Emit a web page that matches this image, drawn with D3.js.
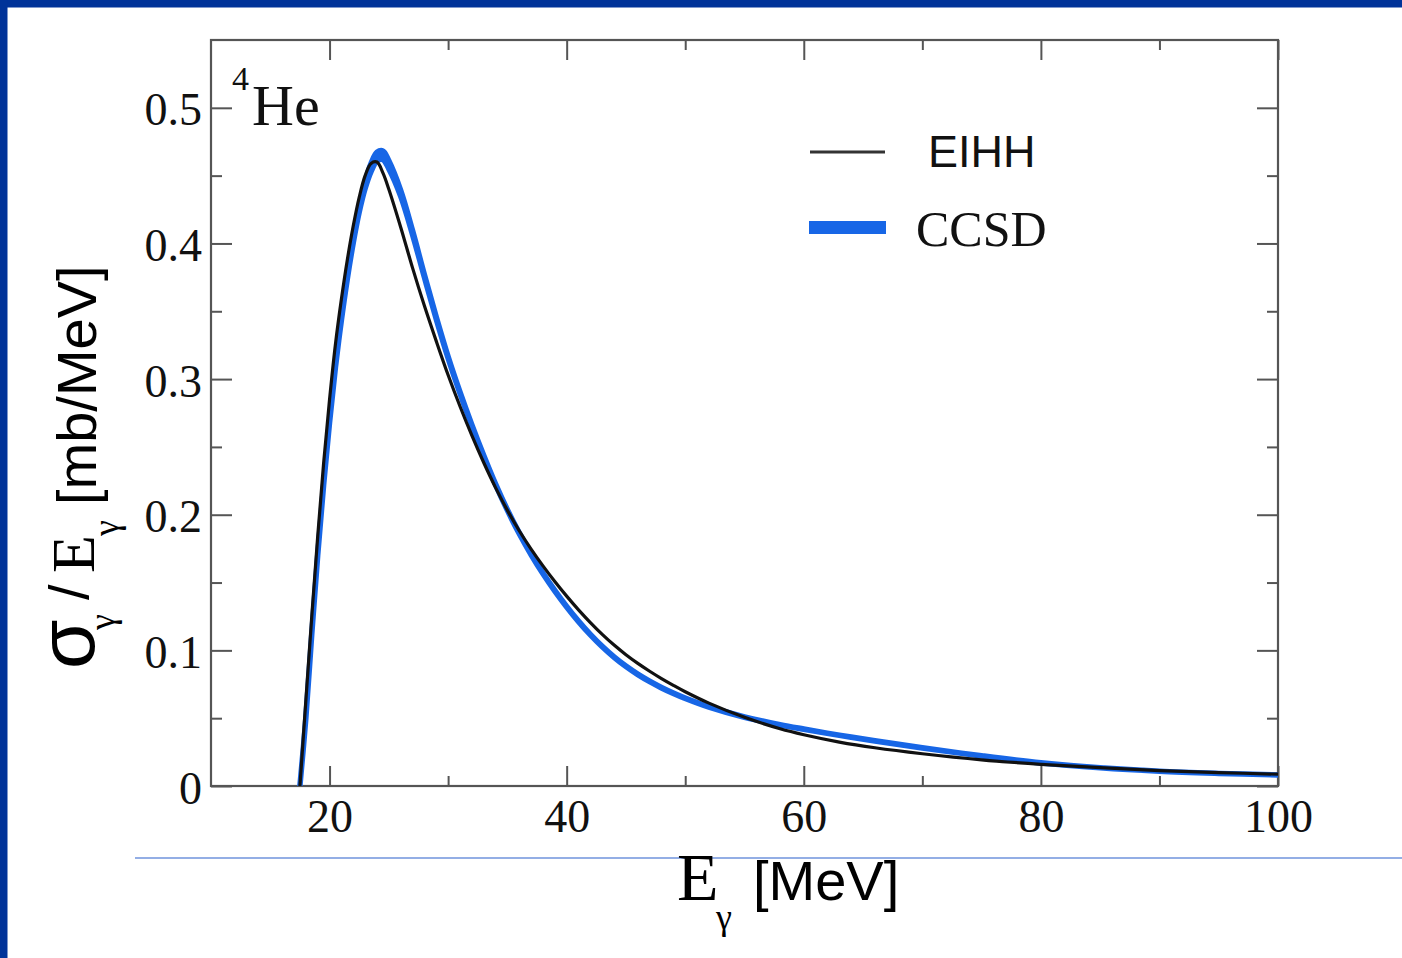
<!DOCTYPE html>
<html>
<head>
<meta charset="utf-8">
<script src="https://cdn.jsdelivr.net/npm/d3@7"></script>
<style>
  html, body { margin: 0; padding: 0; background: #ffffff; }
  svg { display: block; }
</style>
</head>
<body>
<svg id="chart" width="1402" height="958"></svg>
<script>
// Photon energy grid [MeV] shared by both calculations
const energy = [17.5, 18, 18.5, 19, 19.5, 20, 20.5, 21, 21.5, 22, 22.5, 23, 23.5, 24, 24.5, 25,
  26, 27, 28, 29, 30, 31, 32, 33, 34, 35, 36, 37, 38, 39, 40, 41, 42, 43, 44, 45, 46, 47, 48, 49, 50,
  52, 55, 58, 60, 63, 66, 70, 75, 80, 85, 90, 95, 100];

// sigma_gamma / E_gamma [mb/MeV], EIHH calculation
const eihh = [0, 0.063, 0.125, 0.184, 0.238, 0.285, 0.326, 0.359, 0.388, 0.413, 0.434, 0.450, 0.459, 0.460, 0.452, 0.440,
  0.412, 0.382, 0.354, 0.328, 0.303, 0.280, 0.2585, 0.2385, 0.220, 0.2032, 0.1882, 0.1747, 0.1623, 0.1508, 0.140, 0.1299, 0.1205, 0.1118, 0.1039, 0.0968, 0.0904, 0.0846, 0.0792, 0.0742, 0.0695,
  0.0611, 0.0506, 0.0422, 0.0378, 0.0324, 0.0282, 0.0238, 0.0193, 0.0160, 0.0135, 0.0114, 0.0099, 0.0087];

// sigma_gamma / E_gamma [mb/MeV], CCSD calculation and its band half-width
const ccsd = [0, 0.050, 0.112, 0.170, 0.222, 0.268, 0.309, 0.344, 0.375, 0.402, 0.425, 0.443, 0.456, 0.464, 0.465, 0.458,
  0.437, 0.408, 0.376, 0.345, 0.316, 0.290, 0.266, 0.2435, 0.2225, 0.2035, 0.1863, 0.1708, 0.1568, 0.144, 0.1322, 0.1214, 0.1116, 0.1028, 0.095, 0.0882, 0.0823, 0.0771, 0.0725, 0.0684, 0.0647,
  0.0583, 0.0508, 0.0451, 0.0419, 0.0374, 0.0332, 0.0281, 0.0222, 0.0170, 0.0134, 0.0109, 0.0093, 0.0081];
const ccsdErr = [0, 0, 0, 0, 0, 0, 0, 0.0005, 0.001, 0.0015, 0.002, 0.0025, 0.003, 0.0032, 0.0032, 0.003,
  0.0022, 0.0015, 0.001, 0.0008, 0.0006, 0.0005, 0.0004, 0.0004, 0.0003, 0.0003, 0.0003, 0.0003, 0.0003, 0.0003, 0.0002, 0.0002, 0.0002, 0.0002, 0.0002, 0.0002, 0.0002, 0.0002, 0.0002, 0.0002, 0.0002,
  0.0002, 0.0002, 0.0001, 0.0001, 0.0001, 0.0001, 0.0001, 0.0001, 0.0001, 0, 0, 0, 0];

// Axis ticks
const xMajor = [20, 40, 60, 80, 100];
const xMinor = [30, 50, 70, 90];
const yMajor = [0, 0.1, 0.2, 0.3, 0.4, 0.5];
const yMinor = [0.05, 0.15, 0.25, 0.35, 0.45];

const legendLabels = ["EIHH", "CCSD"];

const svg = d3.select("#chart");
const W = 1402, H = 958;
const SERIF = "'Liberation Serif', 'Times New Roman', serif";
const SANS = "'Liberation Sans', Arial, sans-serif";
const BLUE = "#1766e6";

// slide background and decoration
svg.append("rect").attr("width", W).attr("height", H).attr("fill", "#ffffff");
svg.append("rect").attr("x", 0).attr("y", 0).attr("width", W).attr("height", 7.5).attr("fill", "#003399");
svg.append("rect").attr("x", 0).attr("y", 0).attr("width", 7.5).attr("height", H).attr("fill", "#003399");
svg.append("line").attr("x1", 135).attr("x2", W).attr("y1", 858).attr("y2", 858)
  .attr("stroke", "#6f93dc").attr("stroke-width", 1.5);

// plot area
const plot = { left: 211, right: 1278, top: 40, bottom: 786 };
const x = d3.scaleLinear().domain([10, 100]).range([plot.left, plot.right]);
const y = d3.scaleLinear().domain([0, 0.55]).range([plot.bottom, plot.top]);

svg.append("defs").append("clipPath").attr("id", "plotClip")
  .append("rect").attr("x", plot.left).attr("y", plot.top)
  .attr("width", plot.right - plot.left).attr("height", plot.bottom - plot.top);

const AX = "#555555";
function styleAxis(g) {
  g.select(".domain").remove();
  g.selectAll(".tick line").attr("stroke", AX).attr("stroke-width", 2);
  g.selectAll(".tick text").attr("fill", "#111").attr("font-family", SERIF).attr("font-size", 46);
}

// bottom axis: major with labels, minor unlabeled; ticks point inward
svg.append("g").attr("transform", `translate(0,${plot.bottom})`)
  .call(d3.axisBottom(x).tickValues(xMajor).tickSizeInner(-20).tickSizeOuter(0).tickPadding(13).tickFormat(d3.format("d")))
  .call(styleAxis);
svg.append("g").attr("transform", `translate(0,${plot.bottom})`)
  .call(d3.axisBottom(x).tickValues(xMinor).tickSizeInner(-10).tickSizeOuter(0).tickFormat(""))
  .call(styleAxis);
// top axis mirror
svg.append("g").attr("transform", `translate(0,${plot.top})`)
  .call(d3.axisTop(x).tickValues(xMajor).tickSizeInner(-20).tickSizeOuter(0).tickFormat(""))
  .call(styleAxis);
svg.append("g").attr("transform", `translate(0,${plot.top})`)
  .call(d3.axisTop(x).tickValues(xMinor).tickSizeInner(-10).tickSizeOuter(0).tickFormat(""))
  .call(styleAxis);

// left axis
const yFmt = d => d === 0 ? "0" : d3.format(".1f")(d);
svg.append("g").attr("transform", `translate(${plot.left},0)`)
  .call(d3.axisLeft(y).tickValues(yMajor).tickSizeInner(-21).tickSizeOuter(0).tickPadding(9).tickFormat(yFmt))
  .call(styleAxis)
  .call(g => g.selectAll(".tick text").attr("dy", 17));
svg.append("g").attr("transform", `translate(${plot.left},0)`)
  .call(d3.axisLeft(y).tickValues(yMinor).tickSizeInner(-11).tickSizeOuter(0).tickFormat(""))
  .call(styleAxis);
// right axis mirror
svg.append("g").attr("transform", `translate(${plot.right},0)`)
  .call(d3.axisRight(y).tickValues(yMajor).tickSizeInner(-21).tickSizeOuter(0).tickFormat(""))
  .call(styleAxis);
svg.append("g").attr("transform", `translate(${plot.right},0)`)
  .call(d3.axisRight(y).tickValues(yMinor).tickSizeInner(-11).tickSizeOuter(0).tickFormat(""))
  .call(styleAxis);

// frame
svg.append("rect").attr("x", plot.left).attr("y", plot.top)
  .attr("width", plot.right - plot.left).attr("height", plot.bottom - plot.top)
  .attr("fill", "none").attr("stroke", AX).attr("stroke-width", 2.2);

// curves
const smooth = d3.curveCatmullRom.alpha(0.5);
const curves = svg.append("g").attr("clip-path", "url(#plotClip)");
const band = energy.map((e, i) => ({ e, lo: ccsd[i] - ccsdErr[i], hi: ccsd[i] + ccsdErr[i] }));
curves.append("path").datum(band)
  .attr("d", d3.area().x(d => x(d.e)).y0(d => y(d.lo)).y1(d => y(d.hi)).curve(smooth))
  .attr("fill", BLUE).attr("stroke", BLUE).attr("stroke-width", 5.5).attr("stroke-linejoin", "round");

const eihhPts = energy.map((e, i) => [e, eihh[i]]);
curves.append("path").datum(eihhPts)
  .attr("d", d3.line().x(d => x(d[0])).y(d => y(d[1])).curve(smooth))
  .attr("fill", "none").attr("stroke", "#111").attr("stroke-width", 3.2).attr("stroke-linejoin", "round");

// nucleus label
const nuc = svg.append("text").attr("font-family", SERIF).attr("fill", "#111");
nuc.append("tspan").attr("x", 232).attr("y", 90).attr("font-size", 34).text("4");
nuc.append("tspan").attr("x", 252).attr("y", 125).attr("font-size", 58).text("He");

// legend
const leg = svg.append("g");
leg.append("line").attr("x1", 810).attr("x2", 885).attr("y1", 152).attr("y2", 152)
  .attr("stroke", "#333").attr("stroke-width", 3);
leg.append("text").attr("x", 928).attr("y", 167).attr("font-family", SANS).attr("font-size", 45)
  .attr("fill", "#111").text(legendLabels[0]);
leg.append("rect").attr("x", 809).attr("y", 221).attr("width", 77).attr("height", 13).attr("fill", BLUE);
leg.append("text").attr("x", 916).attr("y", 246).attr("font-family", SERIF).attr("font-size", 50)
  .attr("fill", "#111").text(legendLabels[1]);

// x-axis title: E_gamma [MeV]
const xt = svg.append("g").attr("fill", "#000");
xt.append("text").attr("x", 677).attr("y", 900).attr("font-family", SERIF).attr("font-size", 68).text("E");
xt.append("text").attr("x", 716).attr("y", 929).attr("font-family", SERIF).attr("font-size", 36).text("γ");
xt.append("text").attr("x", 753).attr("y", 900).attr("font-family", SANS).attr("font-size", 56).text("[MeV]");

// y-axis title: sigma_gamma / E_gamma [mb/MeV], rotated
const yt = svg.append("g").attr("transform", "translate(94,668) rotate(-90)").attr("fill", "#000");
yt.append("text").attr("x", -1).attr("y", 0).attr("font-family", SANS).attr("font-size", 80).text("σ");
yt.append("text").attr("x", 38).attr("y", 20).attr("font-family", SERIF).attr("font-size", 36).text("γ");
yt.append("text").attr("x", 68).attr("y", -6).attr("font-family", SANS).attr("font-size", 56).text("/");
yt.append("text").attr("x", 95).attr("y", 0).attr("font-family", SERIF).attr("font-size", 62).text("E");
yt.append("text").attr("x", 132).attr("y", 24).attr("font-family", SERIF).attr("font-size", 36).text("γ");
yt.append("text").attr("x", 163).attr("y", 2).attr("font-family", SANS).attr("font-size", 56).text("[mb/MeV]");
</script>
</body>
</html>
